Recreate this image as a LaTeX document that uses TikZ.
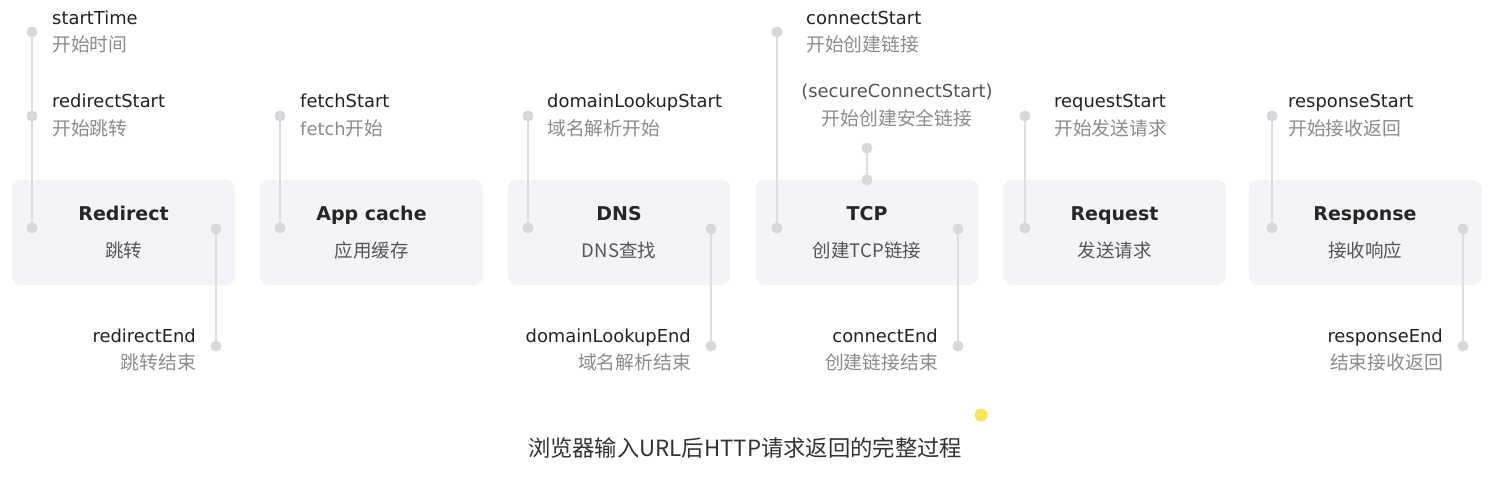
\documentclass[tikz,border=0pt]{standalone}
\usepackage{fontspec}
\setmainfont{DejaVu Sans}
\newfontfamily\cjk{Noto Sans CJK SC}
\definecolor{boxc}{HTML}{F3F4F7}
\definecolor{dotc}{HTML}{D7D8DB}
\definecolor{linec}{HTML}{DDDEE1}
\definecolor{labc}{HTML}{222222}
\definecolor{zhc}{HTML}{8C8C8C}
\definecolor{titc}{HTML}{262626}
\definecolor{subc}{HTML}{555555}
\definecolor{capc}{HTML}{333333}
\definecolor{yelc}{HTML}{F8E45C}
\tikzset{
  pbox/.style={fill=boxc, rounded corners=9pt, minimum width=223pt, minimum height=105pt, inner sep=0pt},
  pdot/.style={circle, fill=dotc, minimum size=11pt, inner sep=0pt},
  conn/.style={draw=linec, line width=2pt},
  lab/.style={font=\fontsize{17.9}{20}\selectfont, text=labc, inner sep=0pt},
  zh/.style={font=\cjk\fontsize{18.8}{20}\selectfont, text=zhc, inner sep=0pt},
  ttl/.style={font=\bfseries\fontsize{19}{22}\selectfont, text=titc, inner sep=0pt},
  sub/.style={font=\cjk\fontsize{18.5}{20}\selectfont, text=subc, inner sep=0pt},
  captext/.style={font=\cjk\fontsize{22.3}{24}\selectfont, text=capc, inner sep=0pt},
}
\begin{document}
\begin{tikzpicture}[x=1pt,y=-1pt]
\useasboundingbox[fill=white] (0,0) rectangle (1498,479);
% boxes
\node[pbox] (b1) at (123.5,232.5) {};
\node[pbox] (b2) at (371.5,232.5) {};
\node[pbox] (b3) at (619,232.5) {};
\node[pbox] (b4) at (867,232.5) {};
\node[pbox] (b5) at (1114.5,232.5) {};
\node[pbox, minimum width=233pt] (b6) at (1365,232.5) {};
% titles
\node[ttl, anchor=base] (t1) at (123.5,220.5) {Redirect};
\node[ttl, anchor=base] (t2) at (371.5,220.5) {App cache};
\node[ttl, anchor=base] (t3) at (619,220.5) {DNS};
\node[ttl, anchor=base] (t4) at (867,220.5) {TCP};
\node[ttl, anchor=base] (t5) at (1114.5,220.5) {Request};
\node[ttl, anchor=base] (t6) at (1365,220.5) {Response};
\node[sub, anchor=base] (s1) at (123.5,257.5) {跳转};
\node[sub, anchor=base] (s2) at (371.5,257.5) {应用缓存};
\node[sub, anchor=base] (s3) at (619,257.5) {DNS查找};
\node[sub, anchor=base] (s4) at (867,257.5) {创建TCP链接};
\node[sub, anchor=base] (s5) at (1114.5,257.5) {发送请求};
\node[sub, anchor=base] (s6) at (1365,257.5) {接收响应};
% coordinates
\coordinate (r0) at (32,32);
\coordinate (r1) at (32,116);
\coordinate (r2) at (32,228);
\coordinate (r3) at (216,229);
\coordinate (r4) at (216,346);
\coordinate (a1) at (280,116);
\coordinate (a2) at (280,228);
\coordinate (d1) at (528,116);
\coordinate (d2) at (528,228);
\coordinate (d3) at (711,229);
\coordinate (d4) at (711,346);
\coordinate (c0) at (777,32);
\coordinate (c1) at (777,228);
\coordinate (c2) at (867,148);
\coordinate (c3) at (867,180);
\coordinate (c4) at (958,229);
\coordinate (c5) at (958,346);
\coordinate (q1) at (1025,116);
\coordinate (q2) at (1025,228);
\coordinate (e1) at (1272,116);
\coordinate (e2) at (1272,228);
\coordinate (e3) at (1463,229);
\coordinate (e4) at (1463,346);
% connectors
\draw[conn] (r0) -- (r2);
\draw[conn] (r3) -- (r4);
\draw[conn] (a1) -- (a2);
\draw[conn] (d1) -- (d2);
\draw[conn] (d3) -- (d4);
\draw[conn] (c0) -- (c1);
\draw[conn] (c2) -- (c3);
\draw[conn] (c4) -- (c5);
\draw[conn] (q1) -- (q2);
\draw[conn] (e1) -- (e2);
\draw[conn] (e3) -- (e4);
% dots
\foreach \p in {r0,r1,r2,r3,r4,a1,a2,d1,d2,d3,d4,c0,c1,c2,c3,c4,c5,q1,q2,e1,e2,e3,e4}
  \node[pdot] (n\p) at (\p) {};
% labels
\node[lab, anchor=base west] (l1) at (52,24.5) {startTime};
\node[zh, anchor=base west] (z1) at (52,51.5) {开始时间};
\node[lab, anchor=base west] (l2) at (52,107.5) {redirectStart};
\node[zh, anchor=base west] (z2) at (52,135.5) {开始跳转};
\node[lab, anchor=base east] (l3) at (196,342.5) {redirectEnd};
\node[zh, anchor=base east] (z3) at (196,369.5) {跳转结束};
\node[lab, anchor=base west] (l4) at (300,107.5) {fetchStart};
\node[zh, anchor=base west] (z4) at (300,135.5) {\rmfamily\fontsize{17.9}{20}\selectfont fetch{\cjk\fontsize{18.8}{20}\selectfont 开始}};
\node[lab, anchor=base west] (l5) at (547,107.5) {domainLookupStart};
\node[zh, anchor=base west] (z5) at (547,135.5) {域名解析开始};
\node[lab, anchor=base east] (l6) at (691,342.5) {domainLookupEnd};
\node[zh, anchor=base east] (z6) at (691,369.5) {域名解析结束};
\node[lab, anchor=base west] (l7) at (806,24.5) {connectStart};
\node[zh, anchor=base west] (z7) at (806,51.5) {开始创建链接};
\node[lab, anchor=base, text=subc] (l8) at (897,97.5) {(secureConnectStart)};
\node[zh, anchor=base] (z8) at (897,125.5) {开始创建安全链接};
\node[lab, anchor=base east] (l9) at (938,342.5) {connectEnd};
\node[zh, anchor=base east] (z9) at (938,369.5) {创建链接结束};
\node[lab, anchor=base west] (l10) at (1054,107.5) {requestStart};
\node[zh, anchor=base west] (z10) at (1054,135.5) {开始发送请求};
\node[lab, anchor=base west] (l11) at (1288,107.5) {responseStart};
\node[zh, anchor=base west] (z11) at (1288,135.5) {开始接收返回};
\node[lab, anchor=base east] (l12) at (1443,342.5) {responseEnd};
\node[zh, anchor=base east] (z12) at (1443,369.5) {结束接收返回};
% caption
\node[captext, anchor=base] (capt) at (745,456) {浏览器输入URL后HTTP请求返回的完整过程};
\node[circle, fill=yelc, minimum size=13pt, inner sep=0pt] (ydot) at (981,415) {};
\end{tikzpicture}
\end{document}
